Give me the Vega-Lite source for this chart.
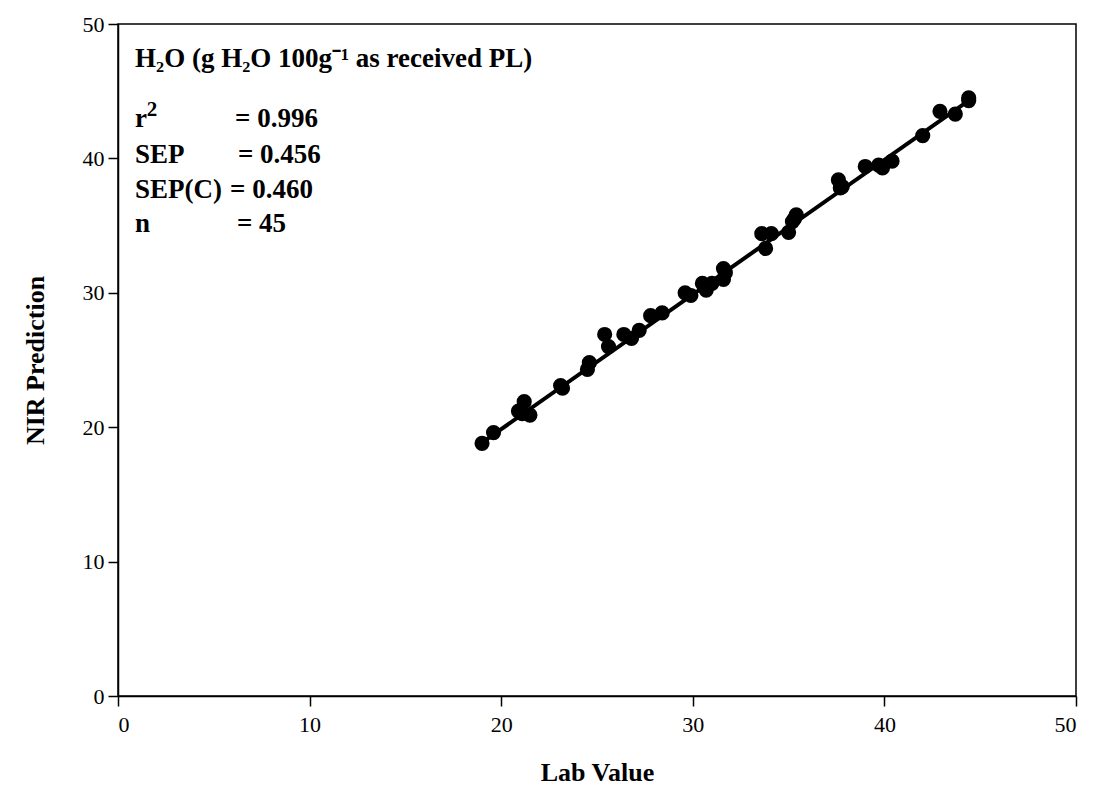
{
  "$schema": "https://vega.github.io/schema/vega-lite/v6.json",
  "autosize": {"type": "none"},
  "width": 958,
  "height": 672,
  "padding": {"left": 118, "top": 24, "right": 17, "bottom": 113},
  "background": "white",
  "config": {
    "view": {"stroke": "black", "strokeWidth": 1.5},
    "font": "Liberation Serif",
    "axis": {
      "grid": false,
      "domainColor": "black",
      "domainWidth": 1.5,
      "tickColor": "black",
      "tickWidth": 1.5,
      "tickSize": 10,
      "labelColor": "black",
      "titleColor": "black"
    }
  },
  "datasets": {
    "samples": [
      {"lab": 19.0, "nir": 18.8},
      {"lab": 19.6, "nir": 19.6},
      {"lab": 20.9, "nir": 21.2},
      {"lab": 21.2, "nir": 21.9},
      {"lab": 21.5, "nir": 20.9},
      {"lab": 23.1, "nir": 23.1},
      {"lab": 23.2, "nir": 22.9},
      {"lab": 24.5, "nir": 24.3},
      {"lab": 24.6, "nir": 24.8},
      {"lab": 25.4, "nir": 26.9},
      {"lab": 25.6, "nir": 26.0},
      {"lab": 26.4, "nir": 26.9},
      {"lab": 26.8, "nir": 26.6},
      {"lab": 27.2, "nir": 27.2},
      {"lab": 27.8, "nir": 28.3},
      {"lab": 28.4, "nir": 28.5},
      {"lab": 29.6, "nir": 30.0},
      {"lab": 29.9, "nir": 29.8},
      {"lab": 30.5, "nir": 30.7},
      {"lab": 30.7, "nir": 30.2},
      {"lab": 31.0, "nir": 30.7},
      {"lab": 31.6, "nir": 31.0},
      {"lab": 31.6, "nir": 31.8},
      {"lab": 31.7, "nir": 31.5},
      {"lab": 33.6, "nir": 34.4},
      {"lab": 33.8, "nir": 33.3},
      {"lab": 34.1, "nir": 34.4},
      {"lab": 35.0, "nir": 34.5},
      {"lab": 35.2, "nir": 35.3},
      {"lab": 35.4, "nir": 35.8},
      {"lab": 37.6, "nir": 38.4},
      {"lab": 37.7, "nir": 37.8},
      {"lab": 37.8, "nir": 37.9},
      {"lab": 39.0, "nir": 39.4},
      {"lab": 39.7, "nir": 39.5},
      {"lab": 39.9, "nir": 39.3},
      {"lab": 40.4, "nir": 39.8},
      {"lab": 42.0, "nir": 41.7},
      {"lab": 42.9, "nir": 43.5},
      {"lab": 43.7, "nir": 43.3},
      {"lab": 44.4, "nir": 44.5},
      {"lab": 44.4, "nir": 44.3},
      {"lab": 30.6, "nir": 30.5},
      {"lab": 35.3, "nir": 35.5},
      {"lab": 21.1, "nir": 21.0}
    ],
    "fit": [
      {"lab": 19.0, "nir": 18.85},
      {"lab": 44.4, "nir": 44.3}
    ],
    "notes": [
      {"text": "H₂O (g H₂O 100g⁻¹ as received PL)", "x": 0.89, "y": 46.82},
      {"text": "r", "x": 0.89, "y": 42.36},
      {"text": "=  0.996", "x": 6.11, "y": 42.36},
      {"text": "SEP", "x": 0.89, "y": 39.66},
      {"text": "= 0.456", "x": 6.26, "y": 39.66},
      {"text": "SEP(C)", "x": 0.89, "y": 37.05},
      {"text": "= 0.460", "x": 5.85, "y": 37.05},
      {"text": "n", "x": 0.89, "y": 34.52},
      {"text": "=  45", "x": 6.21, "y": 34.52}
    ],
    "exponents": [
      {"text": "2", "x": 1.5, "y": 43.15}
    ]
  },
  "layer": [
    {
      "data": {"name": "fit"},
      "mark": {"type": "line", "color": "black", "strokeWidth": 4},
      "encoding": {
        "x": {"field": "lab", "type": "quantitative", "scale": {"domain": [0, 50]},
          "axis": {"title": "Lab Value", "values": [0, 10, 20, 30, 40, 50],
            "labelFont": "Liberation Serif", "labelFontSize": 22, "labelPadding": 8,
            "titleFont": "Liberation Serif", "titleFontSize": 26, "titleFontWeight": "bold", "titlePadding": 24}},
        "y": {"field": "nir", "type": "quantitative", "scale": {"domain": [0, 50]},
          "axis": {"title": "NIR Prediction", "values": [0, 10, 20, 30, 40, 50],
            "labelFont": "Liberation Serif", "labelFontSize": 22, "labelPadding": 4,
            "titleFont": "Liberation Serif", "titleFontSize": 26, "titleFontWeight": "bold", "titlePadding": 34}}
      }
    },
    {
      "data": {"name": "samples"},
      "mark": {"type": "point", "filled": true, "color": "black", "opacity": 1, "size": 230},
      "encoding": {
        "x": {"field": "lab", "type": "quantitative"},
        "y": {"field": "nir", "type": "quantitative"}
      }
    },
    {
      "data": {"name": "notes"},
      "mark": {"type": "text", "align": "left", "baseline": "alphabetic", "font": "Liberation Serif", "fontSize": 27, "fontWeight": "bold", "color": "black"},
      "encoding": {
        "x": {"field": "x", "type": "quantitative"},
        "y": {"field": "y", "type": "quantitative"},
        "text": {"field": "text"}
      }
    },
    {
      "data": {"name": "exponents"},
      "mark": {"type": "text", "align": "left", "baseline": "alphabetic", "font": "Liberation Serif", "fontSize": 21, "fontWeight": "bold", "color": "black"},
      "encoding": {
        "x": {"field": "x", "type": "quantitative"},
        "y": {"field": "y", "type": "quantitative"},
        "text": {"field": "text"}
      }
    }
  ]
}
